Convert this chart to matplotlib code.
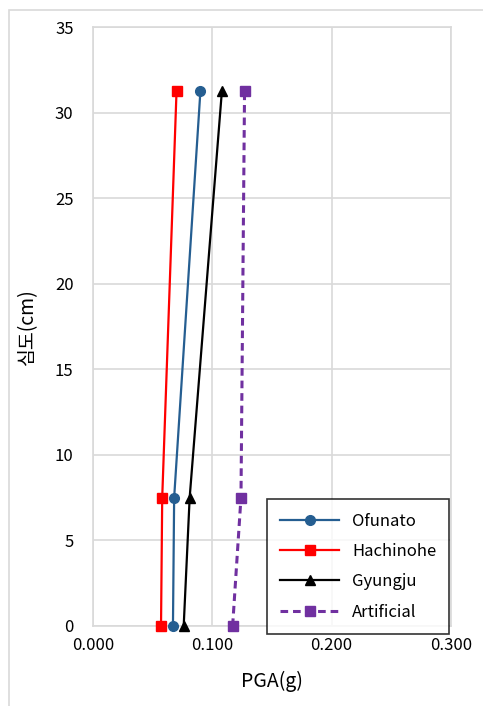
import matplotlib.pyplot as plt
from matplotlib.patches import Rectangle

plt.rcParams['font.family'] = ['Noto Sans CJK KR', 'DejaVu Sans']

# 심도 (cm)
depth = [0, 7.5, 31.25]

# PGA(g) per record
ofunato = [0.067, 0.068, 0.090]
hachinohe = [0.057, 0.058, 0.070]
gyungju = [0.076, 0.081, 0.108]
artificial = [0.117, 0.124, 0.127]

x_ticks = [0.0, 0.1, 0.2, 0.3]
y_ticks = [0, 5, 10, 15, 20, 25, 30, 35]

fig = plt.figure(figsize=(4.83, 7.06), dpi=100)
ax = fig.add_axes([93 / 483, 1 - 626 / 706, (451 - 93) / 483, (626 - 27) / 706])

# light chart border like the spreadsheet frame
fig.patches.append(Rectangle((9 / 483, -0.01), 1.0, 1 - 10 / 706 + 0.01,
                             transform=fig.transFigure, fill=False,
                             edgecolor='#d9d9d9', linewidth=1.2, zorder=0))

ax.plot(ofunato, depth, '-o', color='#255e91', lw=1.6, ms=7, label='Ofunato', clip_on=False, zorder=3)
ax.plot(hachinohe, depth, '-s', color='#ff0000', lw=1.6, ms=7, label='Hachinohe', clip_on=False, zorder=3)
ax.plot(gyungju, depth, '-^', color='black', lw=1.6, ms=7, label='Gyungju', clip_on=False, zorder=3)
ax.plot(artificial, depth, '--s', color='#7030a0', lw=2.2, ms=7, label='Artificial',
        dashes=(2.5, 1.6), clip_on=False, zorder=3)

ax.set_xlim(0, 0.3)
ax.set_ylim(0, 35)
ax.set_xticks(x_ticks)
ax.set_xticklabels([f'{v:.3f}' for v in x_ticks])
ax.set_yticks(y_ticks)
ax.tick_params(length=0, labelsize=12, pad=14)
ax.tick_params(axis='x', pad=8)
ax.grid(True, color='#d9d9d9', lw=1.2)
ax.set_axisbelow(True)
for s in ax.spines.values():
    s.set_color('#d9d9d9')
    s.set_linewidth(1.2)

ax.set_xlabel('PGA(g)', fontsize=14, labelpad=12)
ax.set_ylabel('심도(cm)', fontsize=14, labelpad=12)

leg = ax.legend(loc='lower left', bbox_to_anchor=(267 / 483, 1 - 634 / 706, 182 / 483, 142 / 706),
                bbox_transform=fig.transFigure, mode='expand', fontsize=12,
                frameon=True, fancybox=False, edgecolor='black', handlelength=3.5,
                labelspacing=0.8, borderpad=0.8, borderaxespad=0)
leg.get_frame().set_linewidth(1.2)
leg.set_zorder(5)

fig.savefig('out.png', dpi=100)
